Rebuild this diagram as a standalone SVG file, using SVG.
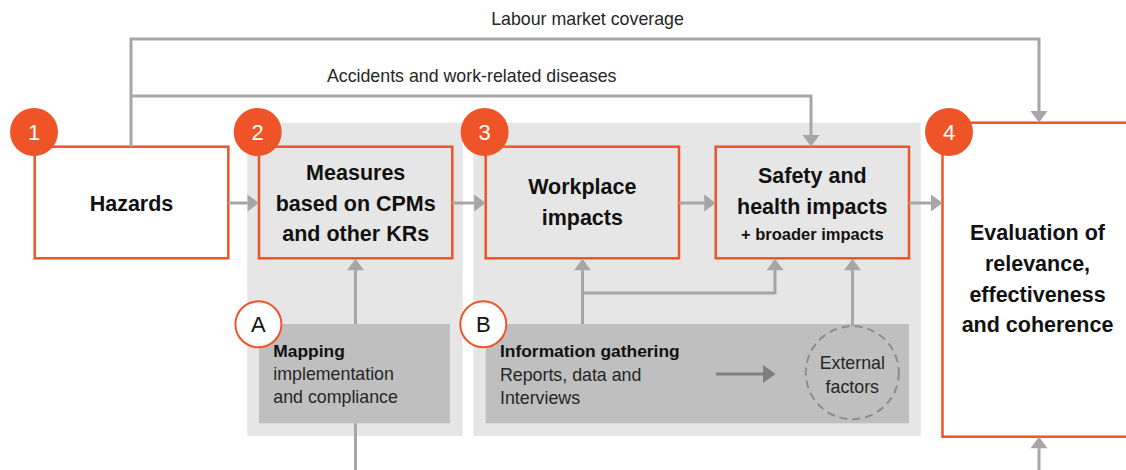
<svg xmlns="http://www.w3.org/2000/svg" width="1126" height="470" viewBox="0 0 1126 470">
<style>
.panel{fill:#E7E6E6;}
.box{stroke:#EE5428;stroke-width:2.5;}
.sub{fill:#BFBFBF;}
.num{fill:#EE5428;}
.numt{font-family:"Liberation Sans",Arial,sans-serif;font-size:22px;fill:#FFFFFF;text-anchor:middle;}
.let{fill:#FFFFFF;stroke:#EE5428;stroke-width:2;}
.lett{font-family:"Liberation Sans",Arial,sans-serif;font-size:22px;fill:#111111;text-anchor:middle;}
.bt{font-family:"Liberation Sans",Arial,sans-serif;font-weight:bold;font-size:21.5px;fill:#111111;text-anchor:middle;}
.bs{font-family:"Liberation Sans",Arial,sans-serif;font-weight:bold;font-size:16.5px;fill:#111111;text-anchor:middle;}
.lbl{font-family:"Liberation Sans",Arial,sans-serif;font-size:17.8px;fill:#262626;}
.sb{font-family:"Liberation Sans",Arial,sans-serif;font-weight:bold;font-size:17.4px;fill:#111111;}
.conn{fill:none;stroke:#A6A6A6;stroke-width:3;}
.conn2{fill:none;stroke:#7F7F7F;stroke-width:3;}
</style>
<defs>
<marker id="ah" markerUnits="userSpaceOnUse" markerWidth="12" markerHeight="18" refX="0" refY="8.5" orient="auto" viewBox="0 0 12 17" overflow="visible">
<path d="M0,0 L11.5,8.5 L0,17 z" fill="#A6A6A6"/>
</marker>
<marker id="ahd" markerUnits="userSpaceOnUse" markerWidth="13" markerHeight="18" refX="0" refY="9" orient="auto" viewBox="0 0 13 18" overflow="visible">
<path d="M0,0 L12.5,9 L0,18 z" fill="#7F7F7F"/>
</marker>
</defs>

<g id="panel-2">
<rect class="panel" x="247.3" y="122.7" width="215.4" height="313.3"/>
</g>
<g id="panel-3">
<rect class="panel" x="473.3" y="122.7" width="447.4" height="313.3"/>
</g>

<g id="labels">
<text class="lbl" x="587.5" y="25" text-anchor="middle">Labour market coverage</text>
<text class="lbl" x="471.7" y="81.5" text-anchor="middle">Accidents and work-related diseases</text>
</g>

<g id="node-hazards">
<rect class="box" x="34.7" y="146.7" width="193.6" height="111.6" fill="#FFFFFF"/>
<text class="bt" x="131.5" y="210.7">Hazards</text>
</g>
<g id="node-measures">
<rect class="box" x="259" y="146.7" width="193.3" height="111.6" fill="#E7E6E6"/>
<text class="bt" x="355.7" y="179.5">Measures</text>
<text class="bt" x="355.7" y="210.5">based on CPMs</text>
<text class="bt" x="355.7" y="240.5">and other KRs</text>
</g>
<g id="node-workplace">
<rect class="box" x="485.7" y="146.7" width="193.3" height="111.6" fill="#E7E6E6"/>
<text class="bt" x="582.3" y="194">Workplace</text>
<text class="bt" x="582.3" y="225">impacts</text>
</g>
<g id="node-safety">
<rect class="box" x="715.7" y="146.7" width="193.3" height="111.6" fill="#E7E6E6"/>
<text class="bt" x="812.3" y="183">Safety and</text>
<text class="bt" x="812.3" y="213.5">health impacts</text>
<text class="bs" x="812.3" y="239.5">+ broader impacts</text>
</g>
<g id="node-evaluation">
<rect class="box" x="942.5" y="122.7" width="200" height="314" fill="#FFFFFF"/>
<text class="bt" x="1037.5" y="240">Evaluation of</text>
<text class="bt" x="1037.5" y="271">relevance,</text>
<text class="bt" x="1037.5" y="301.7">effectiveness</text>
<text class="bt" x="1037.5" y="332.3">and coherence</text>
</g>
<g id="node-mapping">
<rect class="sub" x="259" y="324" width="191" height="99.3"/>
<text class="sb" x="273.3" y="357">Mapping</text>
<text class="lbl" x="273.3" y="380">implementation</text>
<text class="lbl" x="273.3" y="403">and compliance</text>
</g>
<g id="node-information">
<rect class="sub" x="485.7" y="324" width="423.3" height="99.3"/>
<text class="sb" x="500" y="357.3">Information gathering</text>
<text class="lbl" x="500" y="380.7">Reports, data and</text>
<text class="lbl" x="500" y="404">Interviews</text>
</g>
<g id="node-external">
<circle cx="852.3" cy="372.7" r="46.5" fill="none" stroke="#8C8C8C" stroke-width="2" stroke-dasharray="8,5"/>
<text class="lbl" x="852.3" y="369.3" text-anchor="middle">External</text>
<text class="lbl" x="852.3" y="393.3" text-anchor="middle">factors</text>
</g>

<g id="connectors">
<path class="conn" d="M131,146.7 V39 H1039 V111" marker-end="url(#ah)"/>
<path class="conn" d="M131,96 H811 V135" marker-end="url(#ah)"/>
<path class="conn" d="M228.3,203 H247.5" marker-end="url(#ah)"/>
<path class="conn" d="M452.3,203 H474.2" marker-end="url(#ah)"/>
<path class="conn" d="M679,203 H704.2" marker-end="url(#ah)"/>
<path class="conn" d="M909,203 H931" marker-end="url(#ah)"/>
<path class="conn" d="M355.5,324 V270.2" marker-end="url(#ah)"/>
<path class="conn" d="M355.5,423.3 V470"/>
<path class="conn" d="M582.5,324 V270.2" marker-end="url(#ah)"/>
<path class="conn" d="M582.5,293 H775 V270.2" marker-end="url(#ah)"/>
<path class="conn" d="M852.5,326.2 V270.2" marker-end="url(#ah)"/>
<path class="conn" d="M1039,470 V448.2" marker-end="url(#ah)"/>
<path class="conn2" d="M716,374 H763" marker-end="url(#ahd)"/>
</g>

<g id="badge-1"><circle class="num" cx="34" cy="132" r="24"/><text class="numt" x="34" y="140">1</text></g>
<g id="badge-2"><circle class="num" cx="257.7" cy="132" r="24"/><text class="numt" x="257.7" y="140">2</text></g>
<g id="badge-3"><circle class="num" cx="484.6" cy="132" r="24"/><text class="numt" x="484.6" y="140">3</text></g>
<g id="badge-4"><circle class="num" cx="949" cy="132" r="24"/><text class="numt" x="949" y="140">4</text></g>
<g id="badge-A"><circle class="let" cx="258.4" cy="324.3" r="23"/><text class="lett" x="258.4" y="332.3">A</text></g>
<g id="badge-B"><circle class="let" cx="483.3" cy="324.3" r="23"/><text class="lett" x="483.3" y="332.3">B</text></g>
</svg>
